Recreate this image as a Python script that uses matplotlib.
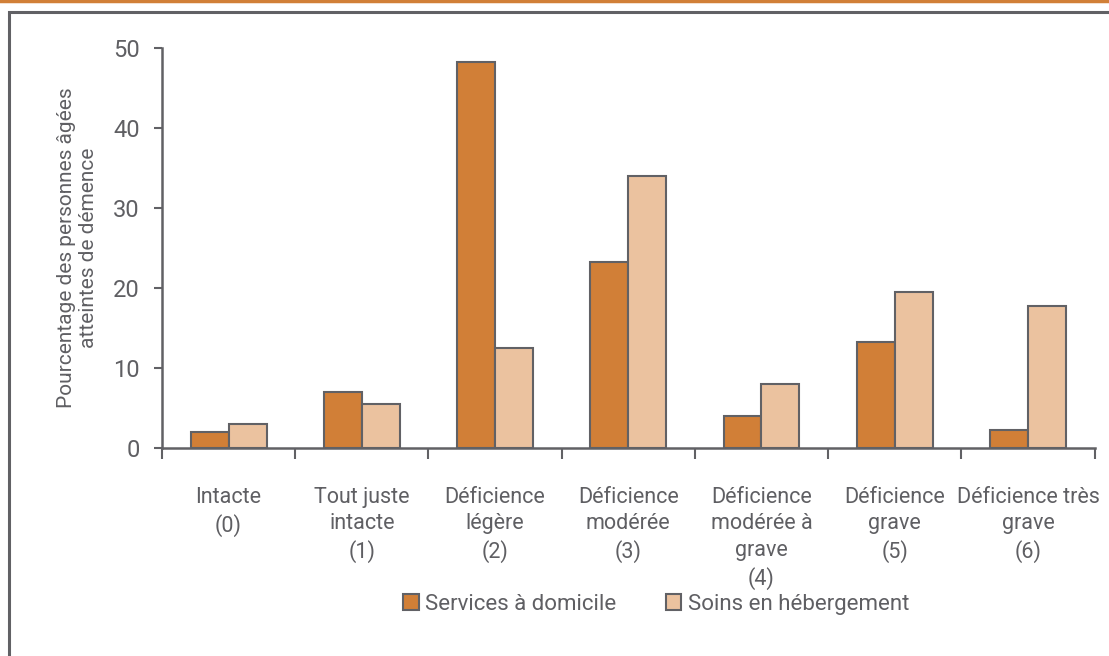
import numpy as np
import matplotlib
matplotlib.use("Agg")
import matplotlib.pyplot as plt
from matplotlib.patches import Rectangle
from matplotlib.lines import Line2D

# data
categories = ["Intacte\n(0)", "Tout juste\nintacte\n(1)", "Déficience\nlégère\n(2)",
              "Déficience\nmodérée\n(3)", "Déficience\nmodérée à\ngrave\n(4)",
              "Déficience\ngrave\n(5)", "Déficience très\ngrave\n(6)"]
services_domicile = [2.0, 7.0, 48.2, 23.2, 4.0, 13.2, 2.2]
soins_hebergement = [3.0, 5.5, 12.5, 34.0, 8.0, 19.5, 17.8]
series_names = ["Services à domicile", "Soins en hébergement"]
y_ticks = [0, 10, 20, 30, 40, 50]

orange = "#D17F37"
light = "#EBC29F"
edge = "#616165"
txt = "#5F5F63"

plt.rcParams['font.family'] = ['Roboto', 'DejaVu Sans']

fig = plt.figure(figsize=(11.09, 6.56), dpi=100)
ax = fig.add_axes([0.146, 0.317, 0.841, 0.61])

x = np.arange(len(categories))
w = 0.285
ax.bar(x - w / 2, services_domicile, w, color=orange, edgecolor=edge, linewidth=1.5,
       label=series_names[0])
ax.bar(x + w / 2, soins_hebergement, w, color=light, edgecolor=edge, linewidth=1.5,
       label=series_names[1])

ax.set_xlim(-0.5, len(categories) - 0.5)
ax.set_ylim(0, 50)
ax.set_yticks(y_ticks)
ax.set_xticks(x)
ax.set_xticklabels(categories, fontsize=15.5, color=txt, linespacing=1.34)
ax.set_xticks(np.arange(len(categories) + 1) - 0.5, minor=True)
ax.tick_params(axis='x', which='major', length=0, pad=28)
ax.tick_params(axis='x', which='minor', length=8, width=1.5, color=edge, direction='out')
ax.tick_params(axis='y', length=6, width=1.5, color=edge, labelsize=17, labelcolor=txt, pad=10)
for s in ['top', 'right']:
    ax.spines[s].set_visible(False)
for s in ['left', 'bottom']:
    ax.spines[s].set_color(edge)
    ax.spines[s].set_linewidth(1.8)

ax.set_ylabel("Pourcentage des personnes âgées\natteintes de démence", fontsize=15,
              color=txt, labelpad=11, linespacing=1.15)

ax.legend(loc='center', bbox_to_anchor=(0.53, -0.39), ncol=2, frameon=False,
          fontsize=16, labelcolor=txt, handlelength=0.7, handleheight=0.7,
          handletextpad=0.3, columnspacing=2.2)

# frame around the chart and orange rule at the top
fig.patches.append(Rectangle((9 / 1109, -0.1), 1.2, 1 - 12 / 656 + 0.1, transform=fig.transFigure,
                             fill=False, edgecolor=edge, linewidth=2.2))
fig.lines.append(Line2D([0, 1], [1 - 1 / 656, 1 - 1 / 656], transform=fig.transFigure,
                        color=orange, linewidth=2.5))

fig.savefig("out.png", dpi=100)
